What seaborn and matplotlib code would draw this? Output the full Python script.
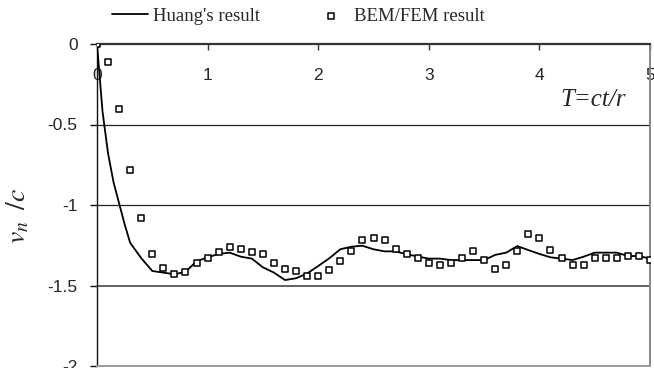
import numpy as np
import pandas as pd
import matplotlib
matplotlib.use("Agg")
import matplotlib.pyplot as plt
import seaborn as sns

# ---- data ----
huang_T = [0, 0.025, 0.05, 0.1, 0.15, 0.2, 0.25, 0.3, 0.4, 0.5, 0.6, 0.7, 0.8, 0.9,
           1.0, 1.1, 1.2, 1.3, 1.4, 1.5, 1.6, 1.7, 1.8, 1.9,
           2.0, 2.1, 2.2, 2.3, 2.4, 2.5, 2.6, 2.7, 2.8, 2.9,
           3.0, 3.1, 3.2, 3.3, 3.4, 3.5, 3.6, 3.7, 3.8, 3.9,
           4.0, 4.1, 4.2, 4.3, 4.4, 4.5, 4.6, 4.7, 4.8, 4.9, 5.0]
huang_v = [0, -0.21, -0.42, -0.68, -0.86, -0.99, -1.12, -1.235, -1.33, -1.41, -1.42, -1.43, -1.415, -1.35,
           -1.325, -1.304, -1.296, -1.321, -1.333, -1.387, -1.42, -1.466, -1.455, -1.425,
           -1.379, -1.331, -1.275, -1.259, -1.253, -1.275, -1.288, -1.288, -1.306, -1.32,
           -1.333, -1.333, -1.342, -1.342, -1.342, -1.342, -1.31, -1.296, -1.255, -1.28,
           -1.304, -1.325, -1.333, -1.342, -1.321, -1.296, -1.296, -1.296, -1.317, -1.317, -1.333]

bem_T = [0.0, 0.1, 0.2, 0.3, 0.4, 0.5, 0.6, 0.7, 0.8, 0.9,
         1.0, 1.1, 1.2, 1.3, 1.4, 1.5, 1.6, 1.7, 1.8, 1.9,
         2.0, 2.1, 2.2, 2.3, 2.4, 2.5, 2.6, 2.7, 2.8, 2.9,
         3.0, 3.1, 3.2, 3.3, 3.4, 3.5, 3.6, 3.7, 3.8, 3.9,
         4.0, 4.1, 4.2, 4.3, 4.4, 4.5, 4.6, 4.7, 4.8, 4.9, 5.0]
bem_v = [0.0, -0.11, -0.405, -0.78, -1.08, -1.306, -1.393, -1.429, -1.418, -1.36,
         -1.327, -1.292, -1.261, -1.273, -1.292, -1.306, -1.36, -1.396, -1.408, -1.441,
         -1.441, -1.406, -1.35, -1.284, -1.217, -1.207, -1.217, -1.273, -1.306, -1.329,
         -1.36, -1.373, -1.36, -1.329, -1.284, -1.34, -1.396, -1.373, -1.284, -1.182,
         -1.207, -1.28, -1.329, -1.373, -1.373, -1.329, -1.329, -1.329, -1.317, -1.317, -1.34]

x_ticks = [0, 1, 2, 3, 4, 5]
y_ticks = [0, -0.5, -1, -1.5, -2]
y_ticklabels = ["0", "-0.5", "-1", "-1.5", "-2"]

sns.set_theme(style="white")
plt.rcParams['font.family'] = ['Liberation Sans', 'DejaVu Sans']
plt.rcParams['mathtext.fontset'] = 'stix'

fig = plt.figure(figsize=(6.54, 3.68), dpi=100)
ax = fig.add_axes([97/654, 1-366/368, (650-97)/654, (366-44)/368])

df_h = pd.DataFrame({"T": huang_T, "v": huang_v})
df_b = pd.DataFrame({"T": bem_T, "v": bem_v})

# grid lines
for yv, col, lw in [(-0.5, '#222222', 0.9), (-1.0, '#222222', 0.9), (-1.5, '#555555', 1.3)]:
    ax.axhline(yv, color=col, lw=lw, zorder=1)

sns.lineplot(data=df_h, x="T", y="v", ax=ax, color='black', lw=1.3,
             label="Huang's result", zorder=3, sort=False)
sns.scatterplot(data=df_b, x="T", y="v", ax=ax, marker='s', s=20,
                facecolor='white', edgecolor='black', linewidth=1.1,
                label="BEM/FEM result", zorder=4)

ax.set_xlim(0, 5)
ax.set_ylim(-2, 0)

# spines
ax.spines['top'].set_color('#333333')
ax.spines['top'].set_linewidth(1.6)
ax.spines['left'].set_color('#111111')
ax.spines['left'].set_linewidth(1.0)
ax.spines['right'].set_color('#888888')
ax.spines['right'].set_linewidth(1.4)
ax.spines['bottom'].set_color('#999999')
ax.spines['bottom'].set_linewidth(1.4)

ax.set_xticks(x_ticks)
ax.set_xticklabels([str(t) for t in x_ticks])
ax.tick_params(axis='x', top=True, bottom=False, labeltop=True, labelbottom=False,
               direction='in', length=4, width=1, color='#333333',
               labelsize=12.5, pad=-17)
ax.set_yticks(y_ticks)
ax.set_yticklabels(y_ticklabels)
ax.tick_params(axis='y', left=True, direction='out', length=5, width=1,
               color='#111111', labelsize=12.5, pad=9)
for lbl in ax.get_xticklabels():
    lbl.set_verticalalignment('top')

ax.set_xlabel('')
ax.set_ylabel(r'$v_n\;\;/c$', fontsize=20)
ax.yaxis.set_label_coords(-0.118, 0.466)

ax.text(4.49, -0.385, 'T=ct/r', fontsize=18, family='Liberation Serif',
        style='italic', ha='center', va='baseline')

leg = ax.legend(loc='center', bbox_to_anchor=(0.364, 1.086), ncol=2, frameon=False,
                prop={'family': 'Liberation Serif', 'size': 13.5},
                handlelength=1.9, handletextpad=0.25, columnspacing=2.87,
                borderaxespad=0)

fig.savefig('out.png', dpi=100)
